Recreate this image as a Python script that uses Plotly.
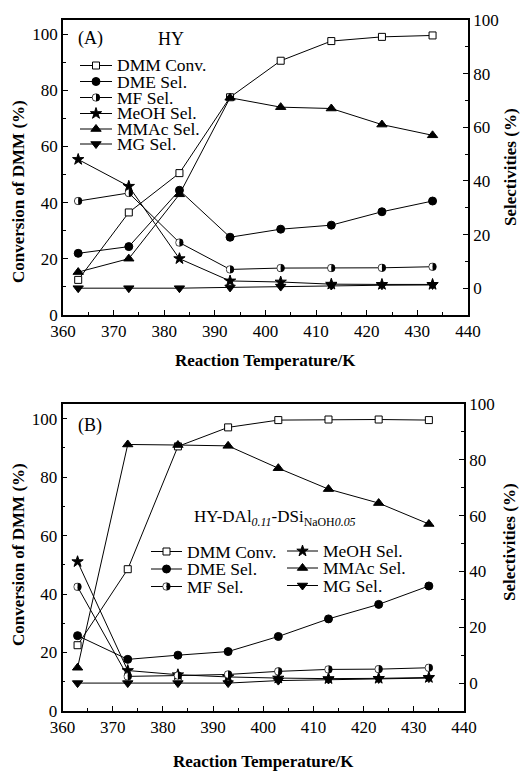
import base64
import plotly.graph_objects as go

W, H = 521, 772
FONT = "Liberation Serif, Times New Roman, serif"

# Reaction temperatures (K)
temps = [363, 373, 383, 393, 403, 413, 423, 433]

# Panel A: HY
hy_dmm_conv = [12.5, 36.5, 50.5, 77.5, 90.5, 97.5, 99.0, 99.5]
hy_dme_sel = [13.0, 15.5, 36.5, 19.0, 22.0, 23.5, 28.5, 32.5]
hy_mf_sel = [32.5, 35.5, 17.0, 7.0, 7.5, 7.5, 7.6, 8.0]
hy_meoh_sel = [48.0, 38.0, 11.0, 2.7, 2.3, 1.5, 1.4, 1.4]
hy_mmac_sel = [6.0, 11.0, 35.0, 71.0, 67.5, 67.0, 61.0, 57.0]
hy_mg_sel = [0.0, 0.0, 0.0, 0.3, 0.6, 1.0, 1.1, 1.2]

# Panel B: HY-DAl0.11-DSiNaOH0.05
hd_dmm_conv = [22.5, 48.5, 90.5, 97.0, 99.5, 99.7, 99.7, 99.5]
hd_dme_sel = [17.0, 8.5, 10.0, 11.3, 16.7, 23.0, 28.2, 34.8]
hd_mf_sel = [34.5, 2.4, 2.7, 3.1, 4.2, 4.9, 5.0, 5.5]
hd_meoh_sel = [43.5, 4.5, 3.0, 2.2, 1.8, 1.6, 1.7, 2.0]
hd_mmac_sel = [5.5, 85.5, 85.3, 85.0, 77.0, 69.5, 64.5, 57.0]
hd_mg_sel = [0.0, 0.0, 0.0, 0.0, 0.9, 1.3, 1.5, 1.8]

names = ["DMM Conv.", "DME Sel.", "MF Sel.", "MeOH Sel.", "MMAc Sel.", "MG Sel."]

X_RANGE = [360, 440]
YL_RANGE = [0, 105]
YR_RANGE = [-10, 100]

STYLES = {
    "DMM Conv.": dict(symbol="square", size=7, color="white"),
    "DME Sel.": dict(symbol="circle", size=8, color="black"),
    "MF Sel.": None,  # half-filled circle, drawn as a small SVG image
    "MeOH Sel.": dict(symbol="star", size=8.5, color="black"),
    "MMAc Sel.": dict(symbol="triangle-up", size=9, color="black"),
    "MG Sel.": dict(symbol="triangle-down", size=9, color="black"),
}

HALF_DOT_PX = 8.5
half_dot_svg = (
    "<svg xmlns='http://www.w3.org/2000/svg' width='40' height='40' viewBox='0 0 40 40'>"
    "<path d='M20 2 A18 18 0 0 0 20 38 Z' fill='white'/>"
    "<path d='M20 2 A18 18 0 0 1 20 38 Z' fill='black'/>"
    "<circle cx='20' cy='20' r='18' fill='none' stroke='black' stroke-width='3.5'/>"
    "</svg>"
)
HALF_DOT = "data:image/svg+xml;base64," + base64.b64encode(half_dot_svg.encode()).decode()


def series(x, y, name, xa, ya, lines=True):
    st = STYLES[name]
    common = dict(x=x, y=y, xaxis=xa, yaxis=ya, showlegend=False,
                  line=dict(color="black", width=1), cliponaxis=False,
                  hoverinfo="skip")
    if st is None:
        return go.Scatter(mode="lines", **common)
    return go.Scatter(mode="lines+markers" if lines else "markers",
                      marker=dict(symbol=st["symbol"], size=st["size"], color=st["color"],
                                  line=dict(color="black", width=1)),
                      **common)


domA_x = [63 / W, 468 / W]
domA_y = [1 - 315 / H, 1 - 20 / H]
domB_x = [62.5 / W, 464 / W]
domB_y = [1 - 711 / H, 1 - 404 / H]

fig = go.Figure()
images = []

panels = [
    ("x", "y", "y2", domA_x, domA_y,
     [hy_dmm_conv, hy_dme_sel, hy_mf_sel, hy_meoh_sel, hy_mmac_sel, hy_mg_sel]),
    ("x2", "y3", "y4", domB_x, domB_y,
     [hd_dmm_conv, hd_dme_sel, hd_mf_sel, hd_meoh_sel, hd_mmac_sel, hd_mg_sel]),
]
for xa, yl, yr, dx, dy, data in panels:
    # pixel-to-unit factors for sizing the half-filled markers
    ux = (X_RANGE[1] - X_RANGE[0]) / ((dx[1] - dx[0]) * W)
    uy = (YR_RANGE[1] - YR_RANGE[0]) / ((dy[1] - dy[0]) * H)
    for name, vals in zip(names, data):
        ya = yl if name == "DMM Conv." else yr
        fig.add_trace(series(temps, vals, name, xa, ya))
        if STYLES[name] is None:
            for t, v in zip(temps, vals):
                images.append(dict(source=HALF_DOT, xref=xa, yref=yr, x=t, y=v,
                                   sizex=HALF_DOT_PX * ux, sizey=HALF_DOT_PX * uy,
                                   xanchor="center", yanchor="middle", layer="above"))

# Legend samples on a page-sized overlay axis (pixel units, y downward)
legend_rows = [
    # (name, line x0, line x1, y, text x)
    ("DMM Conv.", 80, 112, 65.5, 116),
    ("DME Sel.", 80, 112, 81.5, 116),
    ("MF Sel.", 80, 112, 97.5, 116),
    ("MeOH Sel.", 80, 112, 113.5, 116),
    ("MMAc Sel.", 80, 112, 129, 116),
    ("MG Sel.", 80, 112, 144, 116),
    ("DMM Conv.", 151, 182, 551.5, 186),
    ("DME Sel.", 151, 182, 569, 186),
    ("MF Sel.", 151, 182, 586.5, 186),
    ("MeOH Sel.", 287, 318, 551, 322),
    ("MMAc Sel.", 287, 318, 568, 322),
    ("MG Sel.", 287, 318, 585.5, 322),
]
annotations = []
for name, x0, x1, yy, tx in legend_rows:
    xm = (x0 + x1) / 2
    fig.add_trace(go.Scatter(x=[x0, x1], y=[yy, yy], xaxis="x3", yaxis="y5", mode="lines",
                             line=dict(color="black", width=1), showlegend=False,
                             hoverinfo="skip", cliponaxis=False))
    if STYLES[name] is None:
        images.append(dict(source=HALF_DOT, xref="paper", yref="paper", x=xm / W,
                           y=1 - yy / H, sizex=HALF_DOT_PX / W, sizey=HALF_DOT_PX / H,
                           xanchor="center", yanchor="middle", layer="above"))
    else:
        fig.add_trace(series([xm], [yy], name, "x3", "y5", lines=False))
    annotations.append(dict(text=name, x=tx / W, y=1 - yy / H, xref="paper", yref="paper",
                            xanchor="left", yanchor="middle", showarrow=False,
                            font=dict(family=FONT, size=17.5, color="black"), borderpad=0))


def label(text, x, y, size=18, angle=0, bold=False, xanchor="left"):
    if bold:
        text = "<b>" + text + "</b>"
    annotations.append(dict(text=text, x=x / W, y=1 - y / H, xref="paper", yref="paper",
                            xanchor=xanchor, yanchor="middle", showarrow=False,
                            textangle=angle, borderpad=0,
                            font=dict(family=FONT, size=size, color="black")))


label("(A)", 77, 39)
label("HY", 157, 39)
label("(B)", 77, 426)
label("HY-DAl<sub><i>0.11</i></sub>-DSi<sub>NaOH<i>0.05</i></sub>", 193, 518, size=17)

label("Conversion of DMM (%)", 18, 192, size=17, angle=-90, bold=True, xanchor="center")
label("Selectivities (%)", 510, 167, size=17, angle=-90, bold=True, xanchor="center")
label("Conversion of DMM (%)", 18, 555, size=17, angle=-90, bold=True, xanchor="center")
label("Selectivities (%)", 509, 542, size=17, angle=-90, bold=True, xanchor="center")
label("Reaction Temperature/K", 265, 360, size=17, bold=True, xanchor="center")
label("Reaction Temperature/K", 263, 761, size=17, bold=True, xanchor="center")

tickfont = dict(family=FONT, size=17, color="black")
axis_common = dict(showgrid=False, zeroline=False, showline=True, linecolor="black",
                   linewidth=1.5, ticks="inside", ticklen=5, tickwidth=1.2,
                   tickcolor="black", tickfont=tickfont, automargin=False)
minor_common = dict(ticks="inside", ticklen=3, tickwidth=1.2, tickcolor="black", showgrid=False)


def xaxis(dom, anchor):
    return dict(domain=dom, anchor=anchor, range=X_RANGE, tick0=360, dtick=10,
                minor=dict(dtick=5, **minor_common), mirror=True, **axis_common)


def yleft(dom, anchor):
    return dict(domain=dom, anchor=anchor, range=YL_RANGE, tick0=0, dtick=20,
                minor=dict(dtick=10, **minor_common), **axis_common)


def yright(over, anchor):
    return dict(overlaying=over, anchor=anchor, side="right", range=YR_RANGE, tick0=0,
                dtick=20, minor=dict(dtick=10, **minor_common), **axis_common)


fig.update_layout(
    width=W, height=H, autosize=False,
    margin=dict(l=0, r=0, t=0, b=0, pad=0, autoexpand=False),
    paper_bgcolor="white", plot_bgcolor="rgba(0,0,0,0)",
    showlegend=False,
    xaxis=xaxis(domA_x, "y"),
    yaxis=yleft(domA_y, "x"),
    yaxis2=yright("y", "x"),
    xaxis2=xaxis(domB_x, "y3"),
    yaxis3=yleft(domB_y, "x2"),
    yaxis4=yright("y3", "x2"),
    xaxis3=dict(domain=[0, 1], anchor="y5", range=[0, W], visible=False, fixedrange=True),
    yaxis5=dict(domain=[0, 1], anchor="x3", range=[H, 0], visible=False, fixedrange=True),
    annotations=annotations,
    images=images,
)

fig.write_html("out.html")
